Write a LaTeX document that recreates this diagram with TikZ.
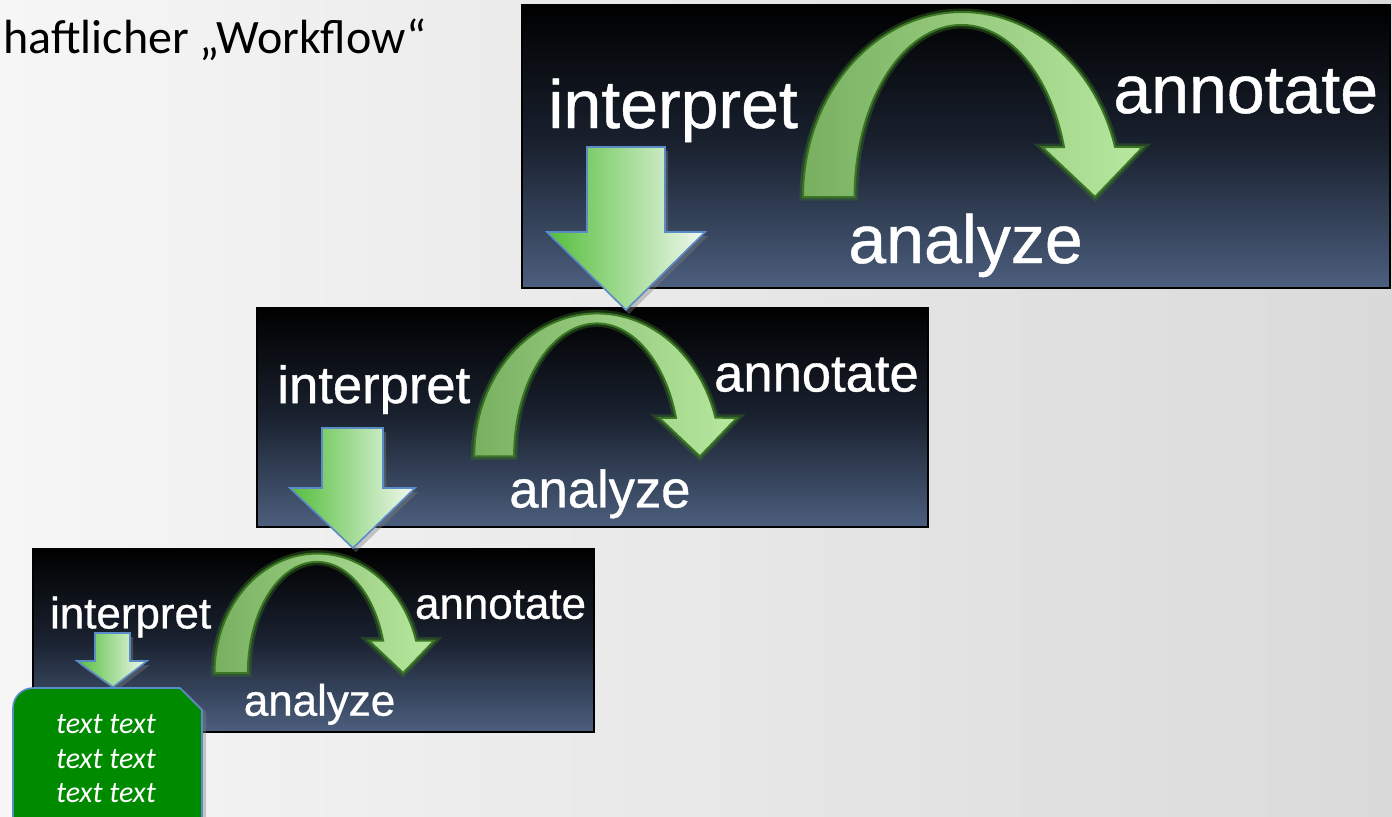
\documentclass[tikz,border=0pt]{standalone}
\usepackage{fontspec}
\usepackage{tikz}
\usetikzlibrary{shadows}
\newfontfamily\labelfont[FakeBold=0.7]{Liberation Sans}
\newfontfamily\calibrifont{Carlito}
\definecolor{panelmid}{RGB}{26,34,48}
\definecolor{panelbot}{RGB}{76,95,126}
\definecolor{arcleft}{RGB}{120,176,96}
\definecolor{arcright}{RGB}{184,232,160}
\definecolor{arcedge}{RGB}{58,118,36}
\definecolor{downleft}{RGB}{84,190,60}
\definecolor{downright}{RGB}{242,249,240}
\definecolor{downedge}{RGB}{92,140,200}
\definecolor{boxgreen}{RGB}{0,138,0}
\definecolor{bgleft}{RGB}{246,246,246}
\definecolor{bgright}{RGB}{218,218,218}

\tikzset{
  wflabel/.style={text=white, inner sep=0pt, anchor=base west, font=\labelfont\fontsize{34}{40}\selectfont},
  curvearrow/.style={left color=arcleft, right color=arcright, draw=arcedge, line width=1pt,
    preaction={draw=arcedge, line width=3.5pt, opacity=0.4}},
  downarrow/.style={left color=downleft, right color=downright, draw=downedge, line width=0.8pt,
    drop shadow={opacity=0.4, shadow xshift=1.5pt, shadow yshift=-2pt}},
  pics/workflow/.style={code={
    \shade[top color=black, bottom color=panelbot, middle color=panelmid] (0,0) rectangle (868,-283);
    \draw[line width=1pt] (0,0) rectangle (868,-283);
    \path[curvearrow] (281,-192) arc[start angle=180, end angle=15.7, x radius=159, y radius=185]
      -- (621,-142) -- (573,-192) -- (520,-142) -- (542,-142)
      arc[start angle=16.9, end angle=180, x radius=107, y radius=172] -- cycle;
    \node[wflabel] (-interpret) at (26,-123) {interpret};
    \node[wflabel] (-annotate) at (591,-108) {annotate};
    \node[wflabel] (-analyze) at (326,-258) {analyze};
  }}
}

\begin{document}
\begin{tikzpicture}[x=0.5pt, y=0.5pt]
\useasboundingbox (0,0) rectangle (1392,-816);
\clip (0,0) rectangle (1392,-816);
\shade[left color=bgleft, right color=bgright] (0,0) rectangle (1392,-816);
\node[anchor=base west, inner sep=0pt, font=\calibrifont\fontsize{24}{28}\selectfont] (title) at (3,-53) {haftlicher „Workflow“};

\pic (big) at (522,-5) {workflow};
\pic[scale=0.773, transform shape] (mid) at (257,-308) {workflow};
\pic[scale=0.646, transform shape] (small) at (33,-549) {workflow};

\path[downarrow] (587,-147) -- (665,-147) -- (665,-232) -- (705,-232) -- (626,-310) -- (547,-232) -- (587,-232) -- cycle;
\path[downarrow] (322,-428) -- (383,-428) -- (383,-488) -- (415,-488) -- (353,-548) -- (290,-488) -- (322,-488) -- cycle;
\path[downarrow] (95,-633) -- (130,-633) -- (130,-661) -- (147,-661) -- (113,-687) -- (77,-661) -- (95,-661) -- cycle;

\filldraw[fill=boxgreen, draw=downedge, line width=0.8pt, drop shadow={opacity=0.4, shadow xshift=2pt, shadow yshift=-1pt}]
  (13,-830) -- (13,-708) arc[start angle=180, end angle=90, radius=20] -- (180,-688) -- (202,-710) -- (202,-830) -- cycle;
\node[align=center, inner sep=0pt, text=white, font=\calibrifont\itshape\fontsize{15}{17.3}\selectfont] (notes) at (106,-759) {text text\\text text\\text text};
\end{tikzpicture}
\end{document}
